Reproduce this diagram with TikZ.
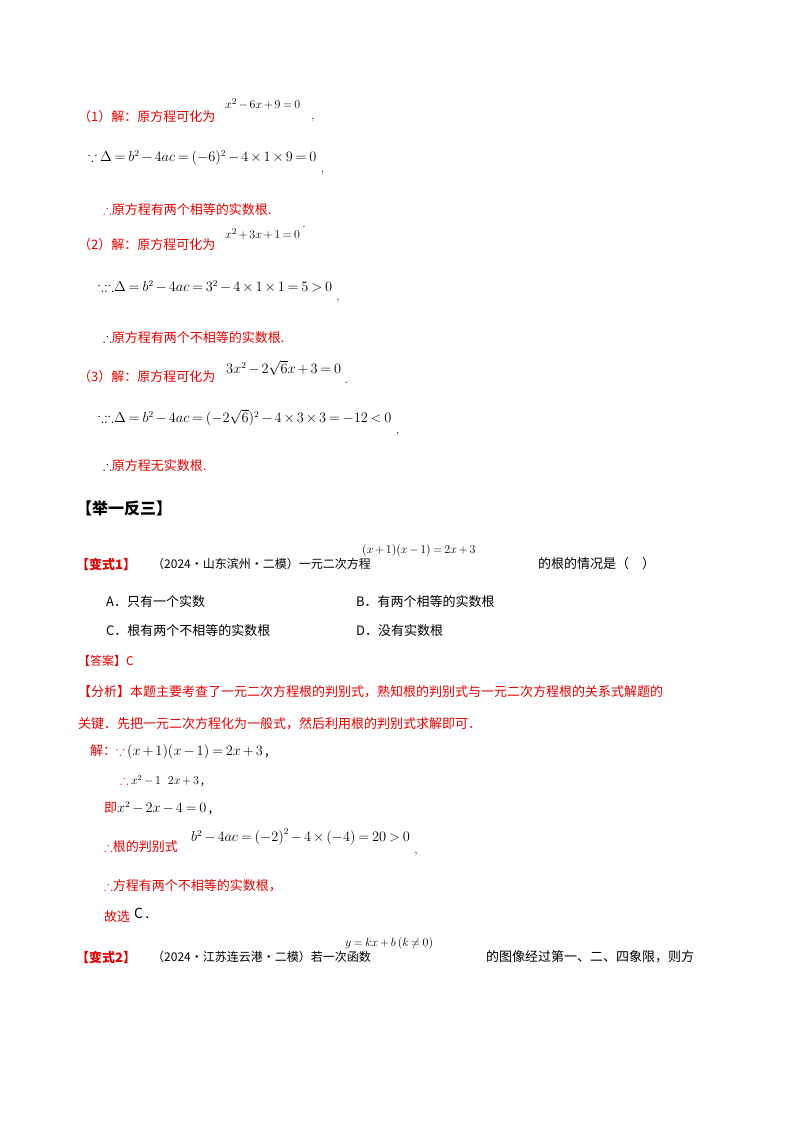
\documentclass[tikz,border=0pt]{standalone}
\usepackage{fontspec}
\usepackage{amssymb}
\newfontfamily\cjk{Noto Sans CJK SC}
\medmuskip=2.5mu plus 1mu minus 1mu
\thickmuskip=3.5mu plus 2mu
\begin{document}
\begin{tikzpicture}[x=1pt,y=-1pt,
 every node/.style={inner sep=0pt,anchor=west,font=\cjk\fontsize{13}{15}\selectfont},
 r/.style={text=red},
 m/.style={font=\fontsize{13.5}{16}\selectfont},
 sm/.style={font=\fontsize{12.5}{14}\selectfont}]
\fill[white] (0,0) rectangle (800,1132);
\useasboundingbox (0,0) rectangle (800,1132);
\definecolor{red}{RGB}{230,0,0}
% (1)
\node[r] (a1) at (78,117) {（1）解：原方程可化为};
\node[sm] (a2) at (225,104) {$x^2-6x+9=0$};
\node[sm] (a3) at (311,120) {,};
\node[m] (a4) at (88,158) {$\because\Delta=b^2-4ac=(-6)^2-4\times1\times9=0$};
\node[sm,anchor=south west] (a5) at ([xshift=4pt,yshift=-10pt]a4.south east) {,};
\node[r] (a6) at (103,210) {$\therefore$原方程有两个相等的实数根.};
% (2)
\node[r] (b1) at (78,245) {（2）解：原方程可化为};
\node[sm] (b2) at (225,234) {$x^2+3x+1=0$};
\node[sm,anchor=south west] (b3) at ([xshift=2pt,yshift=12pt]b2.south east) {.};
\node[m] (b4) at (98,287) {$\because\!\therefore\!\Delta=b^2-4ac=3^2-4\times1\times1=5>0$};
\node[sm,anchor=south west] (b5) at ([xshift=4pt,yshift=-10pt]b4.south east) {,};
\node (b6) at (103,338) {$\therefore$\textcolor{red}{原方程有两个不相等的实数根.}};
% (3)
\node[r] (c1) at (78,377) {（3）解：原方程可化为};
\node[m] (c2) at (226,368) {$3x^2-2\sqrt6x+3=0$};
\node[sm,anchor=south west] (c3) at ([xshift=3pt,yshift=-8pt]c2.south east) {.};
\node[m] (c4) at (98,418) {$\because\!\therefore\!\Delta=b^2-4ac=(-2\sqrt6)^2-4\times3\times3=-12<0$};
\node[sm,anchor=south west] (c5) at ([xshift=4pt,yshift=-10pt]c4.south east) {,};
\node (c6) at (103,466) {$\therefore$\textcolor{red}{原方程无实数根.}};
% 举一反三
\node[font=\cjk\bfseries\fontsize{16}{18}\selectfont] (h) at (76,508) {【举一反三】};
\node[r,font=\cjk\bfseries\fontsize{13}{15}\selectfont] (v1) at (76,564) {【变式1】};
\node (v1b) at (152,564) {\fontsize{12}{14}\selectfont（2024·山东滨州·二模）一元二次方程};
\node[sm] (v1m) at (362,550) {$(x+1)(x-1)=2x+3$};
\node (v1c) at (538,564) {的根的情况是（\quad）};
\node (oa) at (106,602) {A．只有一个实数};
\node (ob) at (356,602) {B．有两个相等的实数根};
\node (oc) at (106,631) {C．根有两个不相等的实数根};
\node (od) at (356,631) {D．没有实数根};
\node[r,font=\cjk\fontsize{12}{14}\selectfont] (ans) at (78,661) {【答案】C};
\node[r] (an1) at (78,692) {【分析】本题主要考查了一元二次方程根的判别式，熟知根的判别式与一元二次方程根的关系式解题的};
\node[r] (an2) at (78,724) {关键．先把一元二次方程化为一般式，然后利用根的判别式求解即可．};
\node (s1) at (90,752) {\textcolor{red}{解：$\because$}\,\fontsize{13.5}{16}\selectfont$(x+1)(x-1)=2x+3$\,,};
\node (s2) at (120,781) {\textcolor{red}{$\therefore$}\,\fontsize{12}{14}\selectfont$x^2-1\;\;\;2x+3$\,,};
\node (s3) at (104,808) {\textcolor{red}{即}\fontsize{13.5}{16}\selectfont$x^2-2x-4=0$\,,};
\node[r] (s4) at (104,847) {$\therefore$根的判别式};
\node[m] (s4m) at (191,837) {$b^2-4ac=\left(-2\right)^2-4\times\left(-4\right)=20>0$};
\node[sm,anchor=south west] (s4c) at ([xshift=4pt,yshift=-10pt]s4m.south east) {,};
\node[r] (s5) at (104,886) {$\therefore$方程有两个不相等的实数根，};
\node[r] (s6) at (104,917) {故选};
\node (s6c) at (134,913) {\fontsize{14}{16}\selectfont C\,.};
\node[r,font=\cjk\bfseries\fontsize{13}{15}\selectfont] (v2) at (76,957) {【变式2】};
\node (v2b) at (152,957) {\fontsize{12}{14}\selectfont（2024·江苏连云港·二模）若一次函数};
\node[sm] (v2m) at (345,943) {$y=kx+b\left(k\neq0\right)$};
\node (v2c) at (486,957) {的图像经过第一、二、四象限，则方};
\end{tikzpicture}
\end{document}
